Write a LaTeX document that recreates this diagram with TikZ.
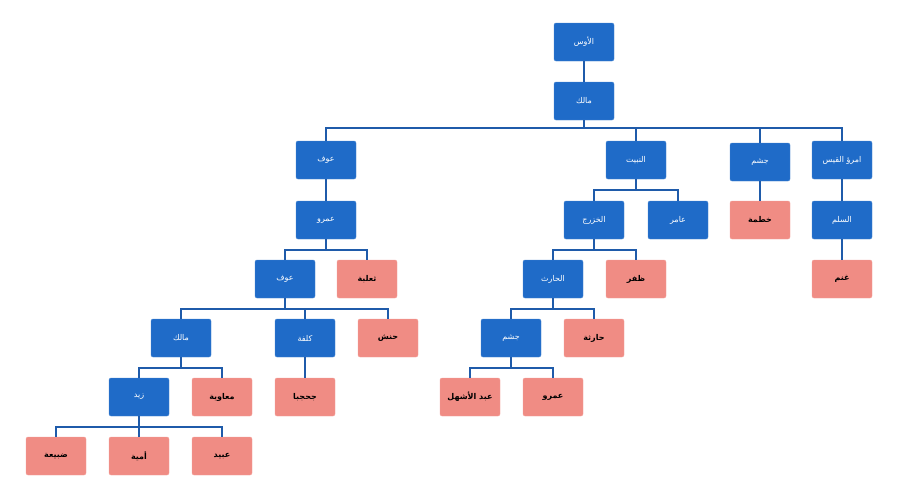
\documentclass[tikz,border=0pt]{standalone}
\usepackage{fontspec}
\newfontfamily\ar[Script=Arabic]{DejaVu Sans}
\TeXXeTstate=1
\definecolor{bl}{HTML}{1F6BC8}
\definecolor{pk}{HTML}{F08C84}
\definecolor{ln}{HTML}{1F5BAA}
\begin{document}
\begin{tikzpicture}[x=1pt,y=-1pt,
 b/.style={draw=bl!80!white,fill=bl,rounded corners=2pt,minimum width=60pt,minimum height=38pt,text=white,font=\ar\fontsize{8}{9}\selectfont,inner sep=1pt},
 p/.style={draw=pk!80!white,fill=pk,rounded corners=2pt,minimum width=60pt,minimum height=38pt,text=black,font=\ar\bfseries\fontsize{8}{9}\selectfont,inner sep=1pt},
 e/.style={draw=ln,line width=2pt}]
\useasboundingbox (0,0) rectangle (900,499);
\newcommand{\R}[1]{\beginR #1\endR}
\node[b] (aws) at (584,42) {\R{الأوس}};
\node[b] (malik) at (584,101) {\R{مالك}};
\node[b] (awf1) at (326,160) {\R{عوف}};
\node[b] (nabit) at (636,160) {\R{النبيت}};
\node[b] (jusham1) at (760,162) {\R{جشم}};
\node[b] (imru) at (842,160) {\R{امرؤ القيس}};
\node[b] (amr1) at (326,220) {\R{عمرو}};
\node[b] (khazraj) at (594,220) {\R{الخزرج}};
\node[b] (amir) at (678,220) {\R{عامر}};
\node[p] (khatma) at (760,220) {\R{خطمة}};
\node[b] (salm) at (842,220) {\R{السلم}};
\node[p] (ghanm) at (842,279) {\R{غنم}};
\node[b] (awf2) at (285,279) {\R{عوف}};
\node[p] (thalaba) at (367,279) {\R{ثعلبة}};
\node[b] (harith) at (553,279) {\R{الحارث}};
\node[p] (zafar) at (636,279) {\R{ظفر}};
\node[b] (malik2) at (181,338) {\R{مالك}};
\node[b] (kulfa) at (305,338) {\R{كلفة}};
\node[p] (hanash) at (388,338) {\R{حنش}};
\node[b] (jusham2) at (511,338) {\R{جشم}};
\node[p] (haritha) at (594,338) {\R{حارثة}};
\node[b] (zayd) at (139,397) {\R{زيد}};
\node[p] (muawiya) at (222,397) {\R{معاوية}};
\node[p] (jahjaba) at (305,397) {\R{جحجبا}};
\node[p] (ashhal) at (470,397) {\R{عبد الأشهل}};
\node[p] (amr2) at (553,397) {\R{عمرو}};
\node[p] (dubayah) at (56,456) {\R{ضبيعة}};
\node[p] (umayya) at (139,456) {\R{أمية}};
\node[p] (ubayd) at (222,456) {\R{عبيد}};
% tree connectors
\draw[e] (aws) -- (malik);
\foreach \c in {awf1,nabit,jusham1,imru} \draw[e] (malik.south) -- ++(0,8) -| (\c.north);
\draw[e] (awf1) -- (amr1);
\foreach \c in {khazraj,amir} \draw[e] (nabit.south) -- ++(0,11) -| (\c.north);
\draw[e] (jusham1) -- (khatma);
\draw[e] (imru) -- (salm);
\draw[e] (salm) -- (ghanm);
\foreach \c in {awf2,thalaba} \draw[e] (amr1.south) -- ++(0,11) -| (\c.north);
\foreach \c in {harith,zafar} \draw[e] (khazraj.south) -- ++(0,11) -| (\c.north);
\foreach \c in {malik2,kulfa,hanash} \draw[e] (awf2.south) -- ++(0,11) -| (\c.north);
\foreach \c in {jusham2,haritha} \draw[e] (harith.south) -- ++(0,11) -| (\c.north);
\foreach \c in {zayd,muawiya} \draw[e] (malik2.south) -- ++(0,11) -| (\c.north);
\draw[e] (kulfa) -- (jahjaba);
\foreach \c in {ashhal,amr2} \draw[e] (jusham2.south) -- ++(0,11) -| (\c.north);
\foreach \c in {dubayah,umayya,ubayd} \draw[e] (zayd.south) -- ++(0,11) -| (\c.north);
\end{tikzpicture}
\end{document}
